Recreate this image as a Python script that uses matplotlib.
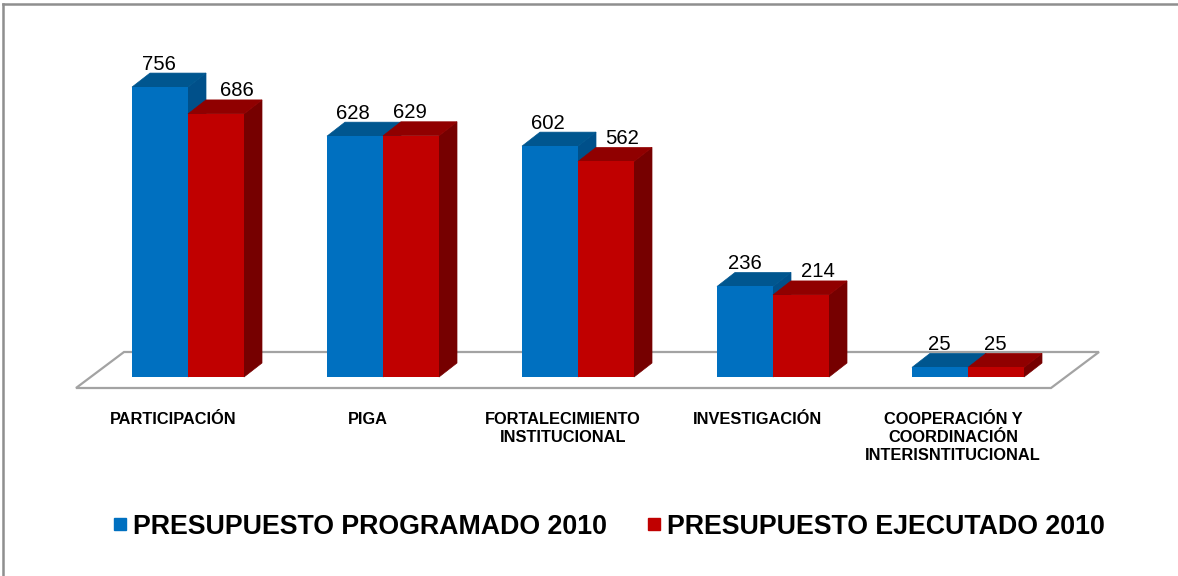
import matplotlib
matplotlib.use("Agg")
import matplotlib.pyplot as plt
from matplotlib.lines import Line2D
from matplotlib.patches import Polygon

categories = ["PARTICIPACIÓN", "PIGA", "FORTALECIMIENTO\nINSTITUCIONAL",
              "INVESTIGACIÓN", "COOPERACIÓN Y\nCOORDINACIÓN\nINTERISNTITUCIONAL"]
programado = [756, 628, 602, 236, 25]
ejecutado = [686, 629, 562, 214, 25]
series_names = ["PRESUPUESTO PROGRAMADO 2010", "PRESUPUESTO EJECUTADO 2010"]

W, H = 1178, 576
PX_X = 195.0    # pixels per category
PX_Y = 0.3835   # pixels per value unit
BASE = 377      # baseline row in the image
X0 = 188        # column of first group centre

plt.rcParams['font.family'] = ['Liberation Sans', 'DejaVu Sans']

fig = plt.figure(figsize=(W/100, H/100), dpi=100)
ax = fig.add_axes([0, (H-BASE)/H, 1, BASE/H])
ax.set_xlim(-X0/PX_X, (W-X0)/PX_X)
ax.set_ylim(0, BASE/PX_Y)
for s in ax.spines.values():
    s.set_visible(False)
ax.set_yticks([])

bw = 56/PX_X
dx = 18/PX_X    # depth of the fake 3d
dy = 14/PX_Y


def bar3d(x, h, front, top, side):
    # x is the left edge of the front face
    ax.add_patch(Polygon([(x+bw, 0), (x+bw+dx, dy), (x+bw+dx, h+dy), (x+bw, h)],
                         fc=side, ec=side, lw=0.5, clip_on=False))
    ax.add_patch(Polygon([(x, h), (x+dx, h+dy), (x+bw+dx, h+dy), (x+bw, h)],
                         fc=top, ec=top, lw=0.5, clip_on=False))
    ax.bar(x, h, width=bw, align="edge", color=front, zorder=1)


# floor
fx = -112/PX_X
fw = 975/PX_X
fy = -11/PX_Y
fd = 36/PX_Y
ax.add_patch(Polygon([(fx, fy), (fx+48/PX_X, fy+fd), (fx+48/PX_X+fw, fy+fd), (fx+fw, fy)],
                     fc="white", ec="#a3a3a3", lw=1.6, clip_on=False, zorder=0))

# small x shifts of the value labels, in pixels
shift_a = [-1, -2, -2, 0, -1]
shift_b = [21, -1, 16, 17, -1]

for i in range(len(categories)):
    bar3d(i-bw, programado[i], "#0070C0", "#00568F", "#00508A")
    bar3d(i, ejecutado[i], "#C00000", "#900000", "#760000")
    ax.patches[-1].set_zorder(1)
    ax.annotate(str(programado[i]), (i-bw/2, programado[i]), xytext=(shift_a[i]*0.72, 23*0.72),
                textcoords="offset points", ha="center", va="center", fontsize=14.6, zorder=5)
    ax.annotate(str(ejecutado[i]), (i+bw/2, ejecutado[i]), xytext=(shift_b[i]*0.72, 23*0.72),
                textcoords="offset points", ha="center", va="center", fontsize=14.6, zorder=5)

ax.set_xticks([i-15/PX_X for i in range(len(categories))])
ax.set_xticklabels(categories, fontsize=11.8, fontweight="bold", linespacing=1.25)
ax.tick_params(axis="x", length=0, pad=25.5)

handles = [Line2D([], [], ls="", marker="s", ms=8.3, color="#0070C0"),
           Line2D([], [], ls="", marker="s", ms=8.3, color="#C00000")]
fig.legend(handles, series_names, ncols=2, loc="center", bbox_to_anchor=(605.5/W, 1-526.5/H),
           frameon=False, prop={"size": 19.3, "weight": "bold"}, handletextpad=-0.03,
           columnspacing=1.27, handlelength=1.0)

# grey frame at the top and left of the picture
fig.add_artist(Line2D([3/W, 3/W], [0, 1-4/H], color="#8f8f8f", lw=1.8))
fig.add_artist(Line2D([3/W, 1], [1-4/H, 1-4/H], color="#8f8f8f", lw=1.8))

fig.savefig("out.png", dpi=100)
